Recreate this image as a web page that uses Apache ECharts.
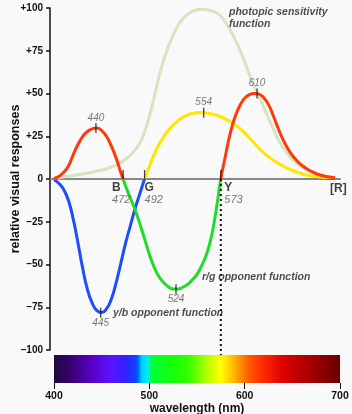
<!DOCTYPE html>
<html><head><meta charset="utf-8">
<script src="https://cdn.jsdelivr.net/npm/echarts@6/dist/echarts.min.js"></script>
<style>html,body{margin:0;padding:0;background:#f9f9f9}#c{width:352px;height:414px}</style>
</head><body><div id="c"></div>
<script>
// ---- data (wavelength in nm, response in %) ----
const wavelengths = [400,405,410,415,420,425,430,435,440,445,450,455,460,465,470,475,480,485,490,495,
                     500,505,510,515,520,525,530,535,540,545,550,555,560,565,570,575,580,585,590,595,
                     600,605,610,615,620,625,630,635,640,645,650,655,660,665,670,675,680,685,690,695];

const photopicVal = [0.3,0.7,1.2,1.6,2.1,2.5,3,3.5,4,4.6,5.3,6,7,8,9.5,11.5,14,17,21,27.5,
                     36.5,47.5,59.6,69.5,77.4,84,89.7,93.5,96.2,98,99,99.3,99,98.3,97.2,95.3,91.5,87,81.5,75.4,
                     68.5,61,54.5,48.3,42,35.5,29.5,23.2,18.5,14.8,11.5,9,7,5.3,4,3,2.2,1.6,1.2,0.9];

const rgVal = [0.3,1.5,3.8,7.5,14,20,24.8,27.8,29.3,29.8,28.3,25,19.5,12.5,4,-4,-11,-18,-26,-35,
               -44,-51.5,-57,-60.5,-63,-64.3,-64.3,-63.3,-61.7,-59,-55.8,-50.5,-44,-34,-18.5,0,14,27,36.5,43,
               47.3,49.4,50,49.6,47.5,43.5,37,29.8,23.3,18,13.8,10.5,8,6,4.5,3.2,2.2,1.5,1,0.6];

const ybVal = [-0.3,-2.5,-6,-12.3,-23,-37,-52,-64.5,-72.5,-77,-78.1,-76,-70.5,-61,-49.5,-37.7,-27.5,-17.4,-8.7,0,
               7.5,14.2,20,24.7,28.5,31.5,34,36,37.5,38.3,38.7,38.8,38.6,38,37.4,36.3,35,33.5,31.8,29.5,
               27,24,21,18,15.3,13,11,9.2,7.6,6.2,5,4,3.1,2.3,1.8,1.4,1.1,0.8,0.6,0.5];

const peakWl    = [444, 449, 528, 557, 613];
const peakVal   = [29.8, -78.2, -64.5, 38.8, 50];
const peakLabel = ['440', '445', '524', '554', '610'];

const crossWl     = [472.5, 495, 575];
const crossLetter = ['B', 'G', 'Y'];
const crossLabel  = ['472', '492', '573'];

const yTicks      = [-100, -75, -50, -25, 0, 25, 50, 75, 100];
const yTickLabels = ['\u2013100', '\u201375', '\u201350', '\u201325', '0', '+25', '+50', '+75', '+100'];
const xTicks      = [400, 500, 600, 700];

const specWl    = [400, 420, 440, 460, 475, 485, 488, 492, 498, 502, 520, 540, 555, 565, 575, 585, 595, 605, 620, 640, 660, 680, 700];
const specColor = ['#1e0a3c','#3c0078','#5a00c8','#5a14ff','#3020ff','#1040ff','#0060ff','#00d0ff','#00e8ff','#00ff40','#10ff10','#30ff00','#90ff00','#d0ff00','#ffff00','#ffcc00','#ff9000','#ff5a00','#ff2800','#e00000','#b80000','#900000','#680000'];

// ---- chart ----
const FONT = "'Liberation Sans', Arial, sans-serif";
const pairs = (xs, ys) => xs.map((x, i) => [x, ys[i]]);
const chart = echarts.init(document.getElementById('c'), null, {renderer: 'canvas'});

const crossOffsets = [-11, 0, 3.5];

chart.setOption({
  backgroundColor: '#f9f9f9',
  animation: false,
  textStyle: {fontFamily: FONT},
  grid: [
    {left: 50, right: 12, top: 8, bottom: 64, containLabel: false, outerBoundsMode: 'none'},
    {left: 54, right: 12, top: 355, bottom: 31, containLabel: false, outerBoundsMode: 'none'}
  ],
  xAxis: [
    {gridIndex: 0, type: 'value', min: 395.8, max: 700,
     axisLine: {onZero: true, lineStyle: {color: '#888', width: 2}},
     axisTick: {show: false}, axisLabel: {show: false}, splitLine: {show: false}},
    {gridIndex: 1, type: 'value', min: 400, max: 700, interval: 100,
     axisLine: {show: false},
     axisTick: {show: true, length: 6, lineStyle: {color: '#111', width: 1}},
     axisLabel: {color: '#111', fontWeight: 'bold', fontSize: 10.5, margin: 8, fontFamily: FONT,
                 formatter: v => xTicks.includes(v) ? String(v) : ''},
     splitLine: {show: false},
     name: 'wavelength (nm)', nameLocation: 'middle', nameGap: 19.5,
     nameTextStyle: {color: '#111', fontWeight: 'bold', fontSize: 12, fontFamily: FONT}}
  ],
  yAxis: [
    {gridIndex: 0, type: 'value', min: -100, max: 100, interval: 25,
     axisLine: {show: true, onZero: false, lineStyle: {color: '#111', width: 1.5}},
     axisTick: {show: true, length: 4, lineStyle: {color: '#111', width: 1.5}},
     axisLabel: {color: '#111', fontWeight: 'bold', fontSize: 10, margin: 7, fontFamily: FONT,
                 formatter: v => yTickLabels[yTicks.indexOf(v)]},
     splitLine: {show: false},
     name: 'relative visual responses', nameLocation: 'middle', nameGap: 28, nameMoveOverlap: false,
     nameTextStyle: {color: '#111', fontWeight: 'bold', fontSize: 12.5, fontFamily: FONT}},
    {gridIndex: 1, type: 'value', min: 0, max: 1, show: false}
  ],
  visualMap: [
    {type: 'piecewise', show: false, seriesIndex: 2, dimension: 1,
     pieces: [{gte: -200, lt: 0, color: '#1fdc2a'}, {gte: 0, lte: 200, color: '#ff3a0a'}]},
    {type: 'piecewise', show: false, seriesIndex: 1, dimension: 1,
     pieces: [{gte: -200, lt: 0, color: '#1e4cff'}, {gte: 0, lte: 200, color: '#ffe500'}]}
  ],
  series: [
    {name: 'photopic', type: 'line', xAxisIndex: 0, yAxisIndex: 0, data: pairs(wavelengths, photopicVal),
     smooth: 0.5, showSymbol: false, symbol: 'none',
     lineStyle: {color: '#d6e4c0', width: 3}, z: 2},
    {name: 'y/b', type: 'line', xAxisIndex: 0, yAxisIndex: 0, data: pairs(wavelengths, ybVal),
     smooth: 0.5, showSymbol: false, symbol: 'none',
     lineStyle: {width: 3}, z: 3},
    {name: 'r/g', type: 'line', xAxisIndex: 0, yAxisIndex: 0, data: pairs(wavelengths, rgVal),
     smooth: 0.5, showSymbol: false, symbol: 'none',
     lineStyle: {width: 3}, z: 4},
    {name: 'yellow boundary', type: 'line', xAxisIndex: 0, yAxisIndex: 0,
     data: [[crossWl[2], 0], [crossWl[2], -103]], clip: false, symbol: 'none',
     lineStyle: {color: '#111', width: 2, type: [2, 3]}, z: 5},
    {name: 'peaks', type: 'scatter', xAxisIndex: 0, yAxisIndex: 0,
     symbol: 'rect', symbolSize: [1.3, 10], itemStyle: {color: '#111'}, z: 6,
     data: peakWl.map((w, i) => ({
       value: [w, peakVal[i]],
       label: {show: true, formatter: peakLabel[i], position: peakVal[i] > 0 ? 'top' : 'bottom', distance: 0,
               color: '#555', fontStyle: 'italic', fontSize: 10, fontFamily: FONT}
     }))},
    {name: 'crossTicks', type: 'scatter', xAxisIndex: 0, yAxisIndex: 0,
     symbol: 'rect', symbolSize: [1.3, 9], symbolOffset: [0, -4.5], itemStyle: {color: '#111'}, z: 6,
     data: crossWl.map(w => [w, 0])},
    {name: 'crossLabels', type: 'scatter', xAxisIndex: 0, yAxisIndex: 0,
     symbolSize: 0, z: 7,
     data: crossWl.map((w, i) => ({
       value: [w, 0],
       label: {show: true, position: [crossOffsets[i], 2.5], align: 'left', verticalAlign: 'top',
               formatter: '{l|' + crossLetter[i] + '}\n{n|' + crossLabel[i] + '}',
               rich: {l: {fontWeight: 'bold', fontSize: 12, color: '#111', lineHeight: 12, fontFamily: FONT},
                      n: {fontStyle: 'italic', fontSize: 11, color: '#555', lineHeight: 12, fontFamily: FONT}}}
     }))},
    {name: 'annotations', type: 'scatter', xAxisIndex: 0, yAxisIndex: 0, symbolSize: 0, z: 7,
     label: {show: true, position: 'right', distance: 0, color: '#222', fontWeight: 'bold', fontStyle: 'italic',
             fontSize: 10.5, lineHeight: 12, fontFamily: FONT},
     data: [
       {value: [700, 0], label: {formatter: '[R]', position: [-10, 4], fontStyle: 'normal', fontSize: 12, color: '#111', verticalAlign: 'top'}},
       {value: [583.6, 93.9], label: {formatter: 'photopic sensitivity\nfunction'}},
       {value: [555.2, -57.3], label: {formatter: 'r/g opponent function'}},
       {value: [461.9, -78.4], label: {formatter: 'y/b opponent function'}}
     ]},
    {name: 'spectrum', type: 'line', xAxisIndex: 1, yAxisIndex: 1,
     data: [[400, 1], [700, 1]], symbol: 'none', lineStyle: {width: 0},
     areaStyle: {opacity: 1, color: new echarts.graphic.LinearGradient(0, 0, 1, 0,
       specWl.map((w, i) => ({offset: (w - 400) / 300, color: specColor[i]})))}}
  ]
});
</script></body></html>
